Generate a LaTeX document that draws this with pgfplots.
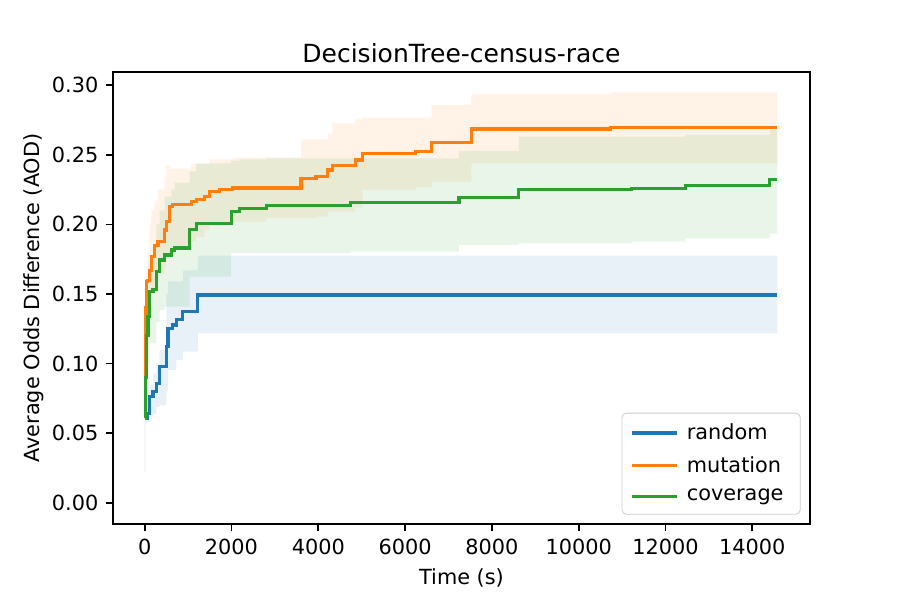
\documentclass[border=0pt]{standalone}
\usepackage{pgfplots}
\pgfplotsset{compat=1.18}
\usepgfplotslibrary{fillbetween}
\usepackage{pgfplotstable}
\usepackage{fontspec}
\setmainfont{DejaVu Sans}

\definecolor{c0}{HTML}{1F77B4}
\definecolor{c1}{HTML}{FF7F0E}
\definecolor{c2}{HTML}{2CA02C}

% x  mean  lower  upper
\pgfplotstableread{
x y lo hi
0 0.061 0.022 0.063
20 0.061 0.057 0.064
54 0.064 0.058 0.068
115 0.0763 0.062 0.085
192 0.0799 0.064 0.093
268 0.0859 0.069 0.100
345 0.0979 0.070 0.110
498 0.1122 0.080 0.150
536 0.1254 0.0955 0.159
651 0.1278 0.0955 0.159
728 0.1314 0.1026 0.159
881 0.1373 0.1086 0.167
1226 0.1493 0.1218 0.1775
14580 0.1493 0.1218 0.1775
}\rnd

\pgfplotstableread{
x y lo hi
0 0.061 0.059 0.063
10 0.090 0.070 0.110
20 0.120 0.090 0.140
30 0.140 0.110 0.160
38 0.159 0.120 0.170
61 0.160 0.130 0.180
115 0.167 0.140 0.200
153 0.177 0.150 0.210
230 0.185 0.160 0.217
307 0.188 0.165 0.225
460 0.196 0.170 0.234
498 0.202 0.175 0.2426
575 0.213 0.180 0.2400
651 0.2144 0.183 0.2400
1073 0.2163 0.188 0.2434
1188 0.218 0.191 0.2434
1379 0.220 0.196 0.2434
1494 0.2235 0.1996 0.2467
1724 0.2252 0.1996 0.2467
2031 0.2261 0.202 0.248
2797 0.2261 0.2044 0.248
3602 0.233 0.2044 0.261
3946 0.2343 0.2056 0.261
4215 0.239 0.2092 0.2654
4330 0.242 0.2092 0.2725
4851 0.2462 0.212 0.2754
5019 0.251 0.2247 0.2766
6245 0.2522 0.2266 0.2766
6613 0.2587 0.2307 0.2857
7525 0.2685 0.2438 0.2934
10728 0.2694 0.2438 0.2948
14580 0.2694 0.2438 0.2948
}\mut

\pgfplotstableread{
x y lo hi
0 0.061 0.058 0.063
20 0.090 0.065 0.100
40 0.120 0.080 0.130
77 0.134 0.100 0.150
115 0.1517 0.1146 0.170
192 0.153 0.1146 0.185
268 0.166 0.130 0.200
345 0.1744 0.1385 0.210
460 0.178 0.141 0.220
613 0.1816 0.141 0.225
689 0.183 0.141 0.230
1034 0.1965 0.1625 0.238
1188 0.2008 0.1625 0.2438
1992 0.2092 0.1794 0.2458
2184 0.2115 0.1794 0.2467
2797 0.2135 0.1794 0.2474
4751 0.2156 0.1804 0.2474
7241 0.2192 0.1852 0.2527
8621 0.2252 0.1864 0.263
11226 0.2259 0.1876 0.263
12452 0.2276 0.190 0.2642
14406 0.2324 0.1936 0.2682
14580 0.2324 0.1936 0.2682
}\cov

\begin{document}
\begin{tikzpicture}
\begin{axis}[
    at={(54.24pt,36.48pt)}, anchor=south west,
    scale only axis,
    width=334.56pt, height=216.96pt,
    xmin=-730, xmax=15330,
    ymin=-0.0151, ymax=0.3094,
    xtick={0,2000,...,14000},
    ytick={0,0.05,...,0.30},
    scaled ticks=false,
    xticklabel style={/pgf/number format/.cd, set thousands separator={}},
    yticklabel style={/pgf/number format/.cd, fixed, fixed zerofill, precision=2},
    /pgf/number format/assume math mode=true,
    tick align=outside, tick pos=left,
    major tick length=3.5pt,
    every tick/.style={black, line width=0.8pt},
    axis line style={line width=0.8pt},
    ticklabel style={font=\fontsize{10}{12}\selectfont},
    title={DecisionTree-census-race},
    title style={font=\fontsize{12}{14}\selectfont, yshift=-5pt},
    xlabel={Time (s)},
    ylabel={Average Odds Difference (AOD)},
    label style={font=\fontsize{10}{12}\selectfont},
    ylabel style={yshift=-3pt},
    legend cell align=left,
    legend style={at={(1,0)}, anchor=south east, xshift=-4.5pt, yshift=4.5pt,
        draw=black!20, rounded corners=2pt, font=\fontsize{10}{12}\selectfont,
        row sep=2.6pt, inner xsep=4pt, inner ysep=3pt,
        nodes={inner xsep=4pt}},
    legend image code/.code={\draw[#1, line width=1.5pt] (0pt,0pt) -- (21.6pt,0pt);},
]
% bands
\addplot[name path=rU, draw=none, const plot, forget plot] table[x=x,y=hi] {\rnd};
\addplot[name path=rL, draw=none, const plot, forget plot] table[x=x,y=lo] {\rnd};
\addplot[fill=c0, fill opacity=0.1, draw=none, forget plot] fill between[of=rU and rL];
\addplot[name path=mU, draw=none, const plot, forget plot] table[x=x,y=hi] {\mut};
\addplot[name path=mL, draw=none, const plot, forget plot] table[x=x,y=lo] {\mut};
\addplot[fill=c1, fill opacity=0.1, draw=none, forget plot] fill between[of=mU and mL];
\addplot[name path=cU, draw=none, const plot, forget plot] table[x=x,y=hi] {\cov};
\addplot[name path=cL, draw=none, const plot, forget plot] table[x=x,y=lo] {\cov};
\addplot[fill=c2, fill opacity=0.1, draw=none, forget plot] fill between[of=cU and cL];
% means
\addplot[c0, line width=1.5pt, const plot] table[x=x,y=y] {\rnd};
\addplot[c1, line width=1.5pt, const plot] table[x=x,y=y] {\mut};
\addplot[c2, line width=1.5pt, const plot] table[x=x,y=y] {\cov};
\legend{random, mutation, coverage}
\end{axis}
\pgfresetboundingbox
\useasboundingbox (0,0) rectangle (432pt,288pt);
\end{tikzpicture}
\end{document}
